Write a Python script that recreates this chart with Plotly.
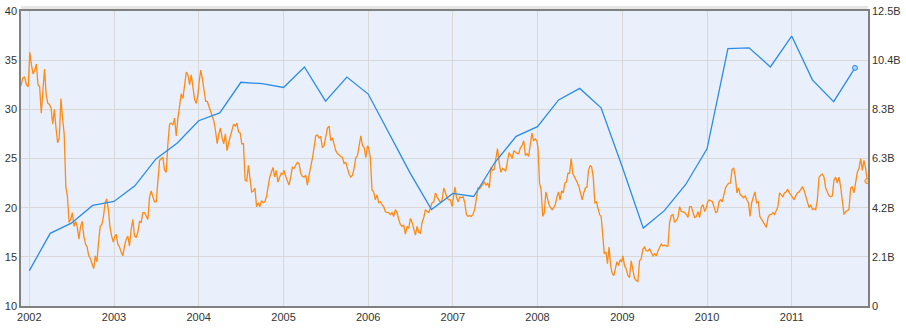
import pandas as pd
import plotly.graph_objects as go

# ---------------- data ----------------
# Quarterly revenue (billions), right axis
rev_dates = ["2002-01-01", "2002-04-01", "2002-07-01", "2002-10-01",
             "2003-01-01", "2003-04-01", "2003-07-01", "2003-10-01",
             "2004-01-01", "2004-04-01", "2004-07-01", "2004-10-01",
             "2005-01-01", "2005-04-01", "2005-07-01", "2005-10-01",
             "2006-01-01", "2006-04-01", "2006-07-01", "2006-10-01",
             "2007-01-01", "2007-04-01", "2007-07-01", "2007-10-01",
             "2008-01-01", "2008-04-01", "2008-07-01", "2008-10-01",
             "2009-01-01", "2009-04-01", "2009-07-01", "2009-10-01",
             "2010-01-01", "2010-04-01", "2010-07-01", "2010-10-01",
             "2011-01-01", "2011-04-01", "2011-07-01", "2011-10-01"]
rev_b = [1.50, 3.08, 3.51, 4.26,
         4.43, 5.09, 6.23, 6.91,
         7.85, 8.18, 9.48, 9.42,
         9.26, 10.13, 8.68, 9.70,
         8.98, 7.28, 5.63, 4.09,
         4.77, 4.64, 6.08, 7.19,
         7.60, 8.73, 9.22, 8.40,
         5.88, 3.30, 4.04, 5.15,
         6.66, 10.91, 10.94, 10.13,
         11.44, 9.57, 8.66, 10.09]

# Weekly share price, left axis (one list per year)
price_2001 = [32.4, 33.2, 33.3, 32.5, 32.3]
price_2002 = [35.8, 34.5, 33.6, 34.0, 34.6, 32.5, 32.3, 29.6, 32.1, 34.1,
              31.5, 30.6, 30.5, 30.1, 28.5, 30.0, 28.1, 26.6, 27.1, 31.1,
              29.1, 27.5, 22.1, 21.1, 18.5, 18.8, 19.5, 18.1, 18.6, 18.0,
              16.8, 18.1, 18.6, 17.1, 16.3, 16.0, 15.1, 14.8, 14.3, 13.8,
              15.1, 14.5, 16.5, 18.1, 18.3, 19.1, 20.5, 20.9, 19.8, 18.0,
              17.1, 16.5]
price_2003 = [17.0, 17.3, 16.3, 16.0, 15.5, 15.1, 16.1, 16.8, 17.1, 16.1,
              17.8, 18.8, 17.1, 17.0, 17.5, 18.6, 18.5, 19.5, 19.5, 19.1,
              18.8, 21.1, 21.7, 21.1, 20.6, 20.6, 23.1, 24.8, 25.0, 25.1,
              23.8, 23.6, 26.5, 28.5, 28.6, 28.4, 29.1, 27.3, 29.1, 30.5,
              31.6, 31.1, 32.5, 33.8, 33.5, 32.5, 33.5, 32.1, 31.0, 30.6,
              31.5]
price_2004 = [32.8, 34.0, 33.1, 32.1, 30.8, 30.8, 30.3, 30.0, 29.5, 28.8,
              27.8, 26.5, 27.5, 28.1, 27.1, 26.5, 27.5, 25.8, 26.6, 27.3,
              27.8, 28.5, 28.3, 28.6, 27.7, 27.6, 26.5, 26.5, 22.8, 22.7,
              24.3, 23.1, 21.6, 21.7, 22.0, 20.1, 20.5, 20.1, 20.7, 20.5,
              20.6, 21.1, 22.1, 23.1, 23.6, 24.1, 23.1, 23.8, 22.6, 23.1,
              23.5, 23.4]
price_2005 = [23.8, 23.2, 22.8, 22.3, 23.1, 24.1, 24.0, 24.3, 24.6, 24.5,
              23.5, 23.2, 23.1, 23.3, 22.3, 23.3, 24.1, 25.0, 26.1, 27.3,
              27.4, 27.1, 27.2, 26.1, 26.3, 27.1, 28.1, 28.3, 26.8, 27.1,
              26.5, 25.8, 25.5, 25.3, 25.2, 25.1, 24.5, 24.6, 24.0, 23.4,
              23.1, 23.3, 24.0, 25.1, 25.3, 26.5, 27.3, 26.3, 26.1, 25.1,
              26.3]
price_2006 = [26.1, 25.1, 21.8, 21.6, 20.8, 21.3, 20.5, 20.6, 20.3, 20.1,
              19.6, 19.5, 19.5, 19.3, 19.5, 19.1, 19.8, 19.5, 18.8, 18.3,
              18.1, 18.2, 17.3, 18.1, 17.9, 18.9, 18.5, 17.8, 17.2, 18.1,
              17.5, 17.4, 18.5, 19.0, 19.8, 19.6, 19.5, 20.0, 20.5, 20.6,
              21.5, 21.1, 20.8, 20.5, 20.8, 22.0, 21.5, 21.0, 20.8, 20.8,
              20.1]
price_2007 = [20.9, 22.1, 21.0, 20.6, 21.1, 21.0, 21.1, 20.5, 19.3, 19.1,
              19.2, 19.1, 19.3, 19.8, 20.8, 22.0, 21.9, 22.1, 22.3, 22.6,
              22.3, 22.5, 22.0, 24.1, 23.8, 23.9, 25.0, 26.0, 24.6, 23.6,
              24.0, 23.9, 23.7, 24.8, 25.6, 25.3, 25.0, 25.8, 25.6, 25.5,
              25.5, 26.1, 26.3, 26.8, 25.3, 25.5, 25.2, 26.3, 27.6, 26.8,
              27.0, 26.8]
price_2008 = [26.1, 22.5, 21.8, 19.1, 19.5, 21.6, 20.8, 20.3, 20.0, 19.8,
              20.0, 20.3, 21.1, 21.6, 20.8, 21.7, 21.5, 22.5, 22.6, 23.5,
              23.5, 25.0, 23.5, 23.2, 22.9, 22.5, 22.1, 21.5, 20.8, 21.5,
              22.0, 22.1, 23.8, 24.3, 24.1, 23.1, 20.5, 20.6, 19.8, 19.3,
              19.1, 17.1, 15.3, 15.5, 14.3, 16.0, 14.1, 13.3, 13.1, 13.8,
              14.5, 14.1, 14.7, 14.5]
price_2009 = [15.1, 14.1, 13.8, 13.1, 12.9, 14.6, 13.5, 12.8, 12.6, 12.5,
              14.6, 14.8, 15.8, 16.0, 15.6, 15.6, 15.8, 15.5, 15.1, 15.3,
              15.1, 15.6, 16.0, 16.3, 16.1, 16.2, 16.1, 16.1, 18.5, 19.2,
              19.3, 18.5, 18.7, 19.0, 20.1, 19.6, 19.6, 19.5, 19.3, 19.0,
              20.1, 20.1, 19.5, 19.0, 19.1, 19.6, 19.0, 20.1, 20.3, 19.6,
              20.0]
price_2010 = [20.5, 20.8, 20.7, 20.6, 20.1, 19.5, 19.6, 20.6, 20.8, 20.6,
              21.3, 22.0, 22.3, 22.5, 22.5, 23.9, 24.0, 23.1, 21.5, 22.0,
              21.3, 21.2, 21.0, 21.2, 20.8, 20.5, 19.1, 20.5, 21.1, 21.6,
              20.5, 20.6, 19.1, 18.8, 18.5, 18.3, 18.0, 19.0, 19.3, 19.3,
              19.5, 19.3, 19.8, 20.1, 21.5, 21.3, 21.1, 21.5, 21.6, 21.9,
              21.5, 21.3]
price_2011 = [21.1, 20.8, 21.2, 21.5, 21.6, 21.9, 22.1, 21.8, 21.2, 20.5,
              20.0, 20.3, 19.8, 19.9, 19.8, 20.8, 23.1, 23.3, 23.4, 23.1,
              22.0, 21.6, 21.2, 21.1, 21.2, 22.8, 23.1, 22.5, 23.1, 22.1,
              20.7, 19.3, 19.6, 19.7, 19.8, 22.0, 22.1, 21.5, 22.5, 23.6,
              24.0, 25.0, 23.8, 24.8, 24.0, 22.7]

left_ticks = [10, 15, 20, 25, 30, 35, 40]
right_tick_text = ["0", "2.1B", "4.2B", "6.3B", "8.3B", "10.4B", "12.5B"]
year_ticks = [str(y) for y in range(2002, 2012)]

# ------------- build weekly x positions per year -------------
segments = [("2001-11-26", "2001-12-27", price_2001)]
for yr, vals in [(2002, price_2002), (2003, price_2003), (2004, price_2004),
                 (2005, price_2005), (2006, price_2006), (2007, price_2007),
                 (2008, price_2008), (2009, price_2009), (2010, price_2010)]:
    segments.append((f"{yr}-01-03", f"{yr}-12-29", vals))
segments.append(("2011-01-04", "2011-11-23", price_2011))

px, py = [], []
for s, e, vals in segments:
    px.extend(pd.date_range(s, e, periods=len(vals)))
    py.extend(vals)

rev = [v * 1e9 for v in rev_b]

BLUE = "#2A8CE6"
ORANGE = "#FF8A14"

fig = go.Figure()
fig.add_trace(go.Scatter(x=px, y=py, mode="lines", yaxis="y",
                         line=dict(color=ORANGE, width=1.3), hoverinfo="skip"))
fig.add_trace(go.Scatter(x=[px[-1]], y=[py[-1]], mode="markers", yaxis="y",
                         marker=dict(size=5, color="#FFC890",
                                     line=dict(color=ORANGE, width=1)),
                         hoverinfo="skip"))
fig.add_trace(go.Scatter(x=rev_dates, y=rev, mode="lines", yaxis="y2",
                         line=dict(color=BLUE, width=1.3), hoverinfo="skip"))
fig.add_trace(go.Scatter(x=[rev_dates[-1]], y=[rev[-1]], mode="markers", yaxis="y2",
                         marker=dict(size=5, color="#A9D2F7",
                                     line=dict(color=BLUE, width=1)),
                         hoverinfo="skip"))

AX = "#808080"
GRID = "#D8D8D8"
fig.update_layout(
    width=906, height=328,
    margin=dict(l=21, r=37, t=5, b=21),
    plot_bgcolor="#EAF0FB", paper_bgcolor="white",
    showlegend=False,
    font=dict(family="Liberation Sans, Arial, sans-serif", size=11, color="#333333"),
    xaxis=dict(type="date", range=["2001-11-26", "2011-11-26"],
               tickvals=[f"{y}-01-01" for y in year_ticks], ticktext=year_ticks,
               showgrid=True, gridcolor=GRID, gridwidth=1,
               showline=True, linecolor=AX, linewidth=1.5, mirror=True,
               ticks="", zeroline=False, fixedrange=True),
    yaxis=dict(range=[10, 40], tickvals=left_ticks,
               ticktext=[str(t) for t in left_ticks],
               showgrid=True, gridcolor=GRID, gridwidth=1,
               showline=True, linecolor=AX, linewidth=1.5,
               ticks="", zeroline=False, fixedrange=True),
    yaxis2=dict(range=[0, 12.5e9], overlaying="y", side="right",
                tickvals=[12.5e9 * k / 6 for k in range(7)],
                ticktext=right_tick_text,
                showgrid=False, showline=True, linecolor=AX, linewidth=1.5,
                ticks="", zeroline=False, fixedrange=True),
    shapes=[dict(type="rect", xref="paper", yref="paper",
                 x0=0, x1=1, y0=1, y1=1 + 5 / 302,
                 fillcolor="#E6E6E6", line=dict(width=0), layer="below")],
)

fig.write_html("out.html", config={"displayModeBar": False},
               post_script="document.body.style.margin='0';document.body.style.overflow='hidden';")
